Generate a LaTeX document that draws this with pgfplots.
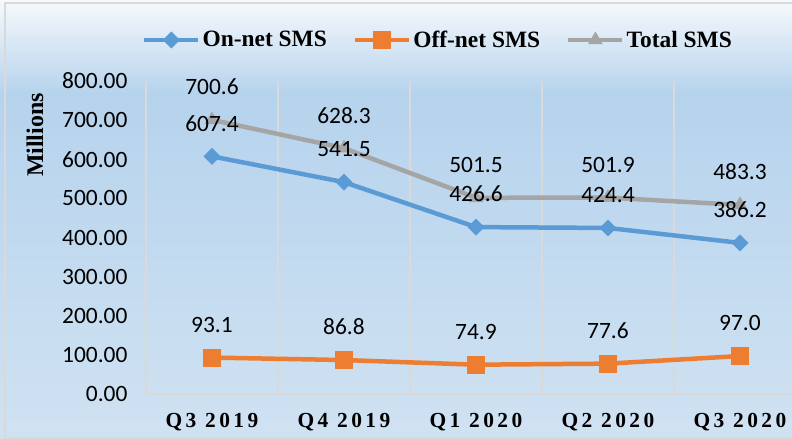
\documentclass[border=0pt]{standalone}
\usepackage{pgfplots}
\pgfplotsset{compat=1.18}
\usepackage{fontspec}
\setmainfont{Carlito}
\newfontfamily\bser{Liberation Serif}
\newfontfamily\xfont{Liberation Serif}[LetterSpace=16]
\definecolor{cblue}{HTML}{5B9BD5}
\definecolor{corange}{HTML}{ED7D31}
\definecolor{cgray}{HTML}{A5A5A5}
\definecolor{gridc}{HTML}{D9D9D9}
\definecolor{bgtop}{HTML}{F6F9FC}
\definecolor{bgmid}{HTML}{B6D3ED}
\definecolor{bgbot}{HTML}{D0E2F2}
\begin{document}
\begin{tikzpicture}
\useasboundingbox (-146bp,-45bp) rectangle (646bp,394bp);
\shade[top color=bgtop, bottom color=bgmid] (-146bp,300bp) rectangle (646bp,394bp);
\shade[top color=bgmid, bottom color=bgbot] (-146bp,-45bp) rectangle (646bp,300.2bp);
\draw[gridc, line width=1.5bp] (-141bp,-44bp) rectangle (700bp,391bp);
\begin{axis}[
  scale only axis, width=646bp, height=313bp, at={(0,0)}, anchor=south west,
  xmin=-0.5, xmax=4.394, ymin=0, ymax=800,
  clip=false,
  axis x line*=bottom, axis y line*=left,
  y axis line style={draw=none},
  x axis line style={draw=gridc, line width=1.5bp, -},
  major tick length=0, minor tick length=0,
  xtick={0,1,2,3,4},
  xticklabels={Q3\ 2019,Q4\ 2019,Q1\ 2020,Q2\ 2020,Q3\ 2020},
  xticklabel style={font=\xfont\bfseries\fontsize{21.5}{21.5}\selectfont, anchor=center, yshift=-28bp},
  minor xtick={-0.5,0.5,1.5,2.5,3.5},
  xminorgrids,
  minor grid style={draw=gridc, line width=1.5bp},
  ytick={0,100,...,800},
  /pgf/number format/assume math mode=true,
  yticklabel={\pgfmathprintnumber[fixed,fixed zerofill,precision=2]{\tick}},
  yticklabel style={font=\fontsize{23.5}{23.5}\selectfont, xshift=-15bp},
  ylabel={Millions},
  ylabel style={at={(axis description cs:-0.172,0.827)}, anchor=center, font=\bser\bfseries\fontsize{24}{24}\selectfont},
  legend columns=3,
  reverse legend,
  legend style={draw=none, fill=none, at={(axis description cs:0.452,1.131)}, anchor=center,
    font=\bser\bfseries\fontsize{23.5}{23.5}\selectfont,
    /tikz/every even column/.append style={column sep=24bp},
    inner sep=0pt, nodes={inner sep=2bp}},
  legend image code/.code={\draw[mark repeat=2,mark phase=2] plot coordinates {(0bp,0bp) (27bp,0bp) (54bp,0bp)};},
  every axis plot/.append style={line width=4.5bp},
  nodes near coords={\pgfmathprintnumber[fixed,fixed zerofill,precision=1]{\pgfplotspointmeta}},
  point meta=y,
  every node near coord/.append style={anchor=center, yshift=33bp, font=\fontsize{23.5}{23.5}\selectfont, text=black},
]
\addplot[color=cgray, mark=triangle*, mark size=8bp, mark options={solid, line width=0.5bp}] coordinates {(0,700.6) (1,628.3) (2,501.5) (3,501.9) (4,483.3)};
\addlegendentry{Total SMS}
\addplot[color=corange, mark=square*, mark size=8.5bp, mark options={solid, line width=0.5bp}] coordinates {(0,93.1) (1,86.8) (2,74.9) (3,77.6) (4,97.0)};
\addlegendentry{Off-net SMS}
\addplot[color=cblue, mark=square*, mark size=5.7bp, mark options={solid, rotate=45, line width=0.5bp}] coordinates {(0,607.4) (1,541.5) (2,426.6) (3,424.4) (4,386.2)};
\addlegendentry{On-net SMS}
\end{axis}
\end{tikzpicture}
\end{document}
